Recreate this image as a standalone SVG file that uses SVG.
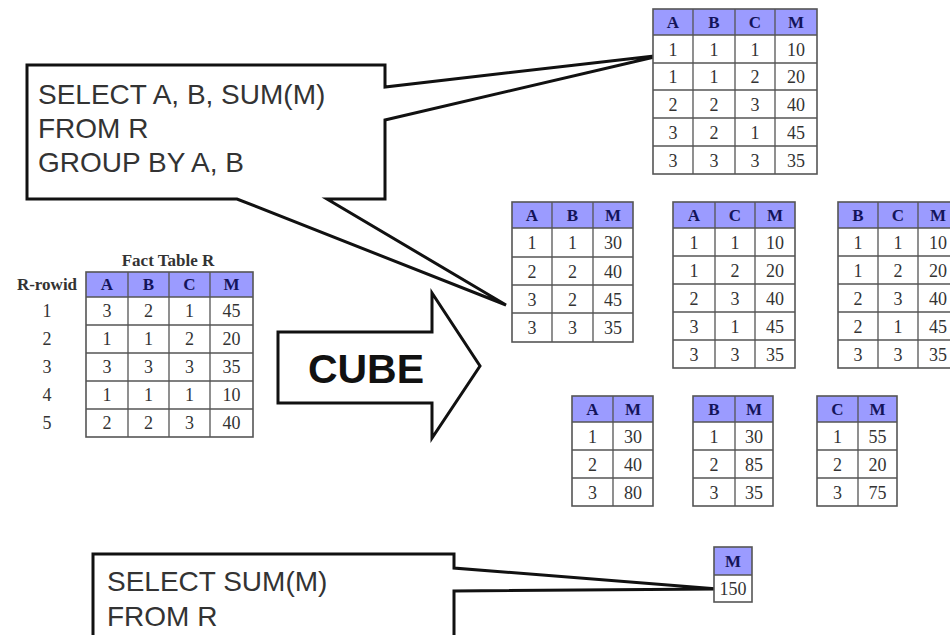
<svg xmlns="http://www.w3.org/2000/svg" width="950" height="635" viewBox="0 0 950 635">
<style>
.hd{fill:#9b9bff;stroke:none}
.bd{fill:#ffffff;stroke:none}
.grid{fill:none;stroke:#555;stroke-width:1.3}
.frame{fill:none;stroke:#555;stroke-width:1.6}
.t{font-family:"Liberation Serif","Times New Roman",serif;font-size:18px;text-anchor:middle;fill:#333}
.h{font-family:"Liberation Serif","Times New Roman",serif;font-size:17px;font-weight:bold;text-anchor:middle;fill:#14145a}
.lbl{font-family:"Liberation Serif","Times New Roman",serif;font-size:17px;font-weight:bold;text-anchor:middle;fill:#333}
.sql{font-family:"Liberation Sans",Arial,sans-serif;font-size:28px;fill:#333}
.callout{fill:#fff;stroke:#111;stroke-width:3;stroke-linejoin:miter}
</style>
<rect x="0" y="0" width="950" height="635" fill="#fff"/>

<!-- Callout top -->
<g id="callout-groupby">
<path class="callout" d="M27,65 H385 V87 L663,55 L385,120 V199 H327 L506,305 L237,199 H27 Z"/>
<text class="sql" x="38" y="104">SELECT A, B, SUM(M)</text>
<text class="sql" x="38" y="138">FROM R</text>
<text class="sql" x="38" y="172">GROUP BY A, B</text>
</g>

<!-- Callout bottom -->
<g id="callout-sum">
<path class="callout" d="M93,554 H454 V568 L718,589 L454,591 V645 H93 Z"/>
<text class="sql" x="107" y="591">SELECT SUM(M)</text>
<text class="sql" x="107" y="626">FROM R</text>
</g>

<!-- CUBE arrow -->
<g id="cube-arrow">
<path d="M278,332 H432 V293 L480,366 L432,438 V403 H278 Z" fill="#fff" stroke="#111" stroke-width="3"/>
<text x="366" y="383" font-family="'Liberation Sans',Arial,sans-serif" font-size="41" font-weight="bold" text-anchor="middle" fill="#111">CUBE</text>
</g>

<!-- Fact table -->
<g id="fact-table">
<text class="lbl" x="168" y="266">Fact Table R</text>
<text class="lbl" x="47" y="290">R-rowid</text>
<rect class="hd" x="86" y="272" width="167" height="25"/>
<rect class="bd" x="86" y="297" width="167" height="140"/>
<path class="grid" d="M128,272V437M169,272V437M210,272V437M86,297H253M86,325H253M86,353H253M86,381H253M86,409H253"/>
<rect class="frame" x="86" y="272" width="167" height="165"/>
<text class="h" x="107" y="290">A</text><text class="h" x="148.5" y="290">B</text><text class="h" x="189.5" y="290">C</text><text class="h" x="231.5" y="290">M</text>
<text class="t" x="47" y="317">1</text><text class="t" x="107" y="317">3</text><text class="t" x="148.5" y="317">2</text><text class="t" x="189.5" y="317">1</text><text class="t" x="231.5" y="317">45</text>
<text class="t" x="47" y="345">2</text><text class="t" x="107" y="345">1</text><text class="t" x="148.5" y="345">1</text><text class="t" x="189.5" y="345">2</text><text class="t" x="231.5" y="345">20</text>
<text class="t" x="47" y="373">3</text><text class="t" x="107" y="373">3</text><text class="t" x="148.5" y="373">3</text><text class="t" x="189.5" y="373">3</text><text class="t" x="231.5" y="373">35</text>
<text class="t" x="47" y="401">4</text><text class="t" x="107" y="401">1</text><text class="t" x="148.5" y="401">1</text><text class="t" x="189.5" y="401">1</text><text class="t" x="231.5" y="401">10</text>
<text class="t" x="47" y="429">5</text><text class="t" x="107" y="429">2</text><text class="t" x="148.5" y="429">2</text><text class="t" x="189.5" y="429">3</text><text class="t" x="231.5" y="429">40</text>
</g>

<!-- Top table ABCM -->
<g id="table-abcm">
<rect class="hd" x="653" y="9" width="164" height="26"/>
<rect class="bd" x="653" y="35" width="164" height="139"/>
<path class="grid" d="M693,9V174M735,9V174M775,9V174M653,35H817M653,63H817M653,90H817M653,118H817M653,146H817"/>
<rect class="frame" x="653" y="9" width="164" height="165"/>
<text class="h" x="673" y="28">A</text><text class="h" x="714" y="28">B</text><text class="h" x="755" y="28">C</text><text class="h" x="796" y="28">M</text>
<text class="t" x="673" y="55.5">1</text><text class="t" x="714" y="55.5">1</text><text class="t" x="755" y="55.5">1</text><text class="t" x="796" y="55.5">10</text>
<text class="t" x="673" y="83">1</text><text class="t" x="714" y="83">1</text><text class="t" x="755" y="83">2</text><text class="t" x="796" y="83">20</text>
<text class="t" x="673" y="110.5">2</text><text class="t" x="714" y="110.5">2</text><text class="t" x="755" y="110.5">3</text><text class="t" x="796" y="110.5">40</text>
<text class="t" x="673" y="138.5">3</text><text class="t" x="714" y="138.5">2</text><text class="t" x="755" y="138.5">1</text><text class="t" x="796" y="138.5">45</text>
<text class="t" x="673" y="166.5">3</text><text class="t" x="714" y="166.5">3</text><text class="t" x="755" y="166.5">3</text><text class="t" x="796" y="166.5">35</text>
</g>

<!-- Table ABM -->
<g id="table-abm">
<rect class="hd" x="512" y="202" width="121" height="26"/>
<rect class="bd" x="512" y="228" width="121" height="114"/>
<path class="grid" d="M552,202V342M593,202V342M512,228H633M512,257H633M512,285H633M512,313H633"/>
<rect class="frame" x="512" y="202" width="121" height="140"/>
<text class="h" x="532" y="221">A</text><text class="h" x="572.5" y="221">B</text><text class="h" x="613" y="221">M</text>
<text class="t" x="532" y="249">1</text><text class="t" x="572.5" y="249">1</text><text class="t" x="613" y="249">30</text>
<text class="t" x="532" y="277.5">2</text><text class="t" x="572.5" y="277.5">2</text><text class="t" x="613" y="277.5">40</text>
<text class="t" x="532" y="305.5">3</text><text class="t" x="572.5" y="305.5">2</text><text class="t" x="613" y="305.5">45</text>
<text class="t" x="532" y="334">3</text><text class="t" x="572.5" y="334">3</text><text class="t" x="613" y="334">35</text>
</g>

<!-- Table ACM -->
<g id="table-acm">
<rect class="hd" x="673" y="202" width="122" height="26"/>
<rect class="bd" x="673" y="228" width="122" height="140"/>
<path class="grid" d="M715,202V368M755,202V368M673,228H795M673,256H795M673,284H795M673,312H795M673,340H795"/>
<rect class="frame" x="673" y="202" width="122" height="166"/>
<text class="h" x="694" y="221">A</text><text class="h" x="735" y="221">C</text><text class="h" x="775" y="221">M</text>
<text class="t" x="694" y="248.5">1</text><text class="t" x="735" y="248.5">1</text><text class="t" x="775" y="248.5">10</text>
<text class="t" x="694" y="276.5">1</text><text class="t" x="735" y="276.5">2</text><text class="t" x="775" y="276.5">20</text>
<text class="t" x="694" y="304.5">2</text><text class="t" x="735" y="304.5">3</text><text class="t" x="775" y="304.5">40</text>
<text class="t" x="694" y="332.5">3</text><text class="t" x="735" y="332.5">1</text><text class="t" x="775" y="332.5">45</text>
<text class="t" x="694" y="360.5">3</text><text class="t" x="735" y="360.5">3</text><text class="t" x="775" y="360.5">35</text>
</g>

<!-- Table BCM -->
<g id="table-bcm">
<rect class="hd" x="838" y="202" width="120" height="26"/>
<rect class="bd" x="838" y="228" width="120" height="140"/>
<path class="grid" d="M878,202V368M918,202V368M838,228H958M838,256H958M838,284H958M838,312H958M838,340H958"/>
<rect class="frame" x="838" y="202" width="120" height="166"/>
<text class="h" x="858" y="221">B</text><text class="h" x="898" y="221">C</text><text class="h" x="938" y="221">M</text>
<text class="t" x="858" y="248.5">1</text><text class="t" x="898" y="248.5">1</text><text class="t" x="938" y="248.5">10</text>
<text class="t" x="858" y="276.5">1</text><text class="t" x="898" y="276.5">2</text><text class="t" x="938" y="276.5">20</text>
<text class="t" x="858" y="304.5">2</text><text class="t" x="898" y="304.5">3</text><text class="t" x="938" y="304.5">40</text>
<text class="t" x="858" y="332.5">2</text><text class="t" x="898" y="332.5">1</text><text class="t" x="938" y="332.5">45</text>
<text class="t" x="858" y="360.5">3</text><text class="t" x="898" y="360.5">3</text><text class="t" x="938" y="360.5">35</text>
</g>

<!-- Table AM -->
<g id="table-am">
<rect class="hd" x="572" y="396" width="81" height="26"/>
<rect class="bd" x="572" y="422" width="81" height="84"/>
<path class="grid" d="M613,396V506M572,422H653M572,450H653M572,478H653"/>
<rect class="frame" x="572" y="396" width="81" height="110"/>
<text class="h" x="592.5" y="415">A</text><text class="h" x="633" y="415">M</text>
<text class="t" x="592.5" y="442.5">1</text><text class="t" x="633" y="442.5">30</text>
<text class="t" x="592.5" y="470.5">2</text><text class="t" x="633" y="470.5">40</text>
<text class="t" x="592.5" y="498.5">3</text><text class="t" x="633" y="498.5">80</text>
</g>

<!-- Table BM -->
<g id="table-bm">
<rect class="hd" x="693" y="396" width="80" height="26"/>
<rect class="bd" x="693" y="422" width="80" height="84"/>
<path class="grid" d="M735,396V506M693,422H773M693,450H773M693,478H773"/>
<rect class="frame" x="693" y="396" width="80" height="110"/>
<text class="h" x="714" y="415">B</text><text class="h" x="754" y="415">M</text>
<text class="t" x="714" y="442.5">1</text><text class="t" x="754" y="442.5">30</text>
<text class="t" x="714" y="470.5">2</text><text class="t" x="754" y="470.5">85</text>
<text class="t" x="714" y="498.5">3</text><text class="t" x="754" y="498.5">35</text>
</g>

<!-- Table CM -->
<g id="table-cm">
<rect class="hd" x="817" y="396" width="80" height="26"/>
<rect class="bd" x="817" y="422" width="80" height="84"/>
<path class="grid" d="M858,396V506M817,422H897M817,450H897M817,478H897"/>
<rect class="frame" x="817" y="396" width="80" height="110"/>
<text class="h" x="837.5" y="415">C</text><text class="h" x="877.5" y="415">M</text>
<text class="t" x="837.5" y="442.5">1</text><text class="t" x="877.5" y="442.5">55</text>
<text class="t" x="837.5" y="470.5">2</text><text class="t" x="877.5" y="470.5">20</text>
<text class="t" x="837.5" y="498.5">3</text><text class="t" x="877.5" y="498.5">75</text>
</g>

<!-- Table M -->
<g id="table-m">
<rect class="hd" x="714" y="547" width="38" height="28"/>
<rect class="bd" x="714" y="575" width="38" height="27"/>
<path class="grid" d="M714,575H752"/>
<rect class="frame" x="714" y="547" width="38" height="55"/>
<text class="h" x="733" y="567">M</text>
<text class="t" x="733" y="595">150</text>
</g>

<g id="connectors"></g>
</svg>
